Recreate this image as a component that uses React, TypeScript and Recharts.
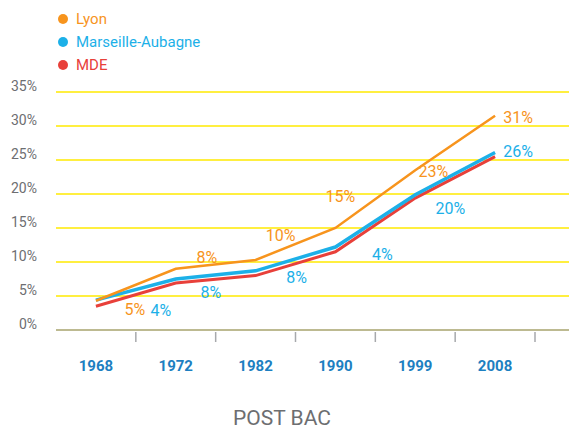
import React from 'react';
import {
  LineChart,
  Line,
  XAxis,
  YAxis,
  CartesianGrid,
  Legend,
  LabelList,
} from 'recharts';

// Years on the x axis
const years = ['1968', '1972', '1982', '1990', '1999', '2008'];

// Share of post-bac (%)
const lyon = [4.3, 9.0, 10.3, 15.0, 23.5, 31.5];
const marseille = [4.4, 7.5, 8.7, 12.2, 19.9, 26.1];
const mde = [3.5, 6.9, 8.0, 11.5, 19.4, 25.5];

// Printed labels beside the lines
const lyonLabels = ['5%', '8%', '10%', '15%', '23%', '31%'];
const marseilleLabels = ['4%', '8%', '8%', '4%', '20%', '26%'];

const yTicks = [0, 5, 10, 15, 20, 25, 30, 35];

const COLORS = {
  lyon: '#f7941d',
  marseille: '#1cb0e8',
  mde: '#e8403a',
};

const legendOrder = ['Lyon', 'Marseille-Aubagne', 'MDE'];

// label offsets relative to each point (layout only)
const lyonOffsets = [[39, 9], [31, -11], [25, -24], [5, -32], [18, 1], [23, 2]];
const marseilleOffsets = [[65, 10], [35, 13], [41, 7], [47, 7], [35, 14], [23, -1]];

const PLOT_LEFT = 56;
const PAD_RIGHT = 34;
const WIDTH = 569;
const BAND = (WIDTH - PLOT_LEFT - PAD_RIGHT) / years.length;

const data = years.map((year, i) => ({
  year,
  lyon: lyon[i],
  marseille: marseille[i],
  mde: mde[i],
  lyonLabel: lyonLabels[i],
  marseilleLabel: marseilleLabels[i],
}));

const FONT = 'Roboto, "Noto Sans", sans-serif';

const YTick = ({ x, y, payload }: any) => (
  <text x={x} y={y - 1} textAnchor="end" fontFamily={FONT} fontSize={14} fill="#6d6e71">
    {`${payload.value}%`}
  </text>
);

const XTick = ({ x, y, payload }: any) => (
  <g>
    <line x1={x + BAND / 2} x2={x + BAND / 2} y1={y + 2} y2={y + 12} stroke="#a7a9ac" strokeWidth={1.5} />
    <text x={x} y={y + 41} textAnchor="middle" fontFamily={FONT} fontSize={15} fontWeight={700} fill="#1d7fc1">
      {payload.value}
    </text>
  </g>
);

const makeLabel = (offsets: number[][], color: string) => (props: any) => {
  const { x, y, value, index } = props;
  const [dx, dy] = offsets[index] || [0, 0];
  return (
    <text
      x={x + dx}
      y={y + dy}
      textAnchor="middle"
      dominantBaseline="central"
      fontFamily={FONT}
      fontSize={16}
      fill={color}
    >
      {value}
    </text>
  );
};

const LegendContent = ({ payload }: any) => {
  const items = [...(payload || [])].sort(
    (a: any, b: any) => legendOrder.indexOf(a.value) - legendOrder.indexOf(b.value)
  );
  return (
    <div style={{ fontFamily: FONT, fontSize: 15 }}>
      {items.map((item: any) => (
        <div key={item.value} style={{ display: 'flex', alignItems: 'center', height: 23, color: item.color }}>
          <span
            style={{
              display: 'inline-block',
              width: 10,
              height: 10,
              borderRadius: 5,
              background: item.color,
              marginRight: 8,
            }}
          />
          {item.value}
        </div>
      ))}
    </div>
  );
};

const AxisTitle = () => (
  <text x={282} y={425} textAnchor="middle" fontFamily={FONT} fontSize={21} fill="#6d6e71">
    POST BAC
  </text>
);

export default function App() {
  return (
    <div style={{ position: 'absolute', left: 0, top: 0, background: '#fff' }}>
      <LineChart width={WIDTH} height={430} data={data} margin={{ top: 92, right: 0, bottom: 0, left: 0 }}>
        <CartesianGrid horizontal vertical={false} stroke="#ffea00" strokeWidth={1.5} />
        <XAxis
          dataKey="year"
          scale="band"
          height={100}
          padding={{ left: 0, right: PAD_RIGHT }}
          axisLine={{ stroke: '#a7a9ac', strokeWidth: 1.5 }}
          tickLine={false}
          tickSize={0}
          tickMargin={0}
          tick={<XTick />}
          interval={0}
          label={<AxisTitle />}
        />
        <YAxis
          width={PLOT_LEFT}
          domain={[0, 35]}
          ticks={yTicks}
          axisLine={false}
          tickLine={false}
          tickSize={0}
          tickMargin={19}
          tick={<YTick />}
        />
        <Legend
          layout="horizontal"
          verticalAlign="middle"
          align="center"
          wrapperStyle={{ top: 7, left: 58, width: 'auto', height: 'auto' }}
          content={<LegendContent />}
        />
        <Line
          name="MDE"
          dataKey="mde"
          type="linear"
          stroke={COLORS.mde}
          strokeWidth={3}
          dot={false}
          isAnimationActive={false}
        />
        <Line
          name="Marseille-Aubagne"
          dataKey="marseille"
          type="linear"
          stroke={COLORS.marseille}
          strokeWidth={3.5}
          dot={false}
          isAnimationActive={false}
        >
          <LabelList dataKey="marseilleLabel" content={makeLabel(marseilleOffsets, COLORS.marseille)} />
        </Line>
        <Line
          name="Lyon"
          dataKey="lyon"
          type="linear"
          stroke={COLORS.lyon}
          strokeWidth={2.5}
          dot={false}
          isAnimationActive={false}
        >
          <LabelList dataKey="lyonLabel" content={makeLabel(lyonOffsets, COLORS.lyon)} />
        </Line>
      </LineChart>
    </div>
  );
}
